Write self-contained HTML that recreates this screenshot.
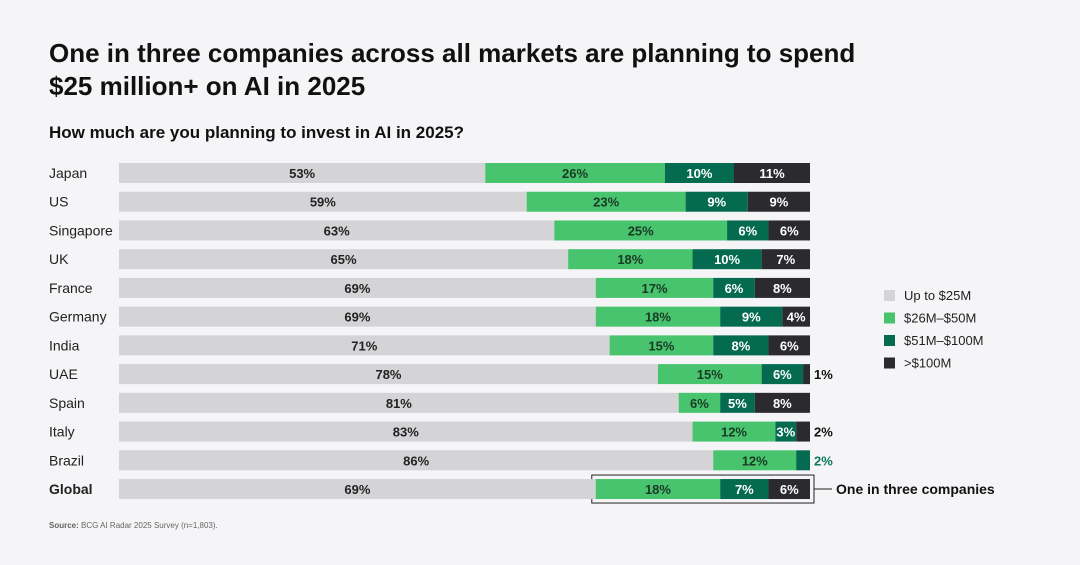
<!DOCTYPE html>
<html><head><meta charset="utf-8"><style>
body{margin:0;background:#f5f4f6;font-family:"Liberation Sans",sans-serif;}
svg{display:block}
</style></head><body>
<svg id="c" width="1080" height="565" xmlns="http://www.w3.org/2000/svg">
<rect width="1080" height="565" fill="#f5f4f6"/>
<text x="49" y="62" font-size="26" font-weight="bold" fill="#111">One in three companies across all markets are planning to spend</text>
<text x="49" y="95" font-size="26" font-weight="bold" fill="#111">$25 million+ on AI in 2025</text>
<text x="49" y="138" font-size="17" font-weight="bold" fill="#111">How much are you planning to invest in AI in 2025?</text>
<text x="49" y="528" font-size="8" fill="#666"><tspan font-weight="bold">Source:</tspan> BCG AI Radar 2025 Survey (n=1,803).</text>
<g id="bars"></g>
<g id="legend"></g>
</svg>
<script>
const categories=["Japan","US","Singapore","UK","France","Germany","India","UAE","Spain","Italy","Brazil","Global"];
const upTo25=[53,59,63,65,69,69,71,78,81,83,86,69];
const m26to50=[26,23,25,18,17,18,15,15,6,12,12,18];
const m51to100=[10,9,6,10,6,9,8,6,5,3,2,7];
const over100=[11,9,6,7,8,4,6,1,8,2,0,6];
const seriesNames=["Up to $25M","$26M–$50M","$51M–$100M",">$100M"];
const colors=["#d4d3d6","#47c46d","#046b50","#2b2a2e"];
const textColors=["#222","#1b3a26","#fff","#fff"];
const outColors=["#222","#222","#0a7a5a","#111"];
const NS="http://www.w3.org/2000/svg";
const g=document.getElementById('bars');
const xRight=810, scale=6.91, y0=163, step=28.73, bh=20;
const xs=v=>v*scale;
const yRow=i=>y0+i*step;
function mk(tag,attrs,parent){const e=document.createElementNS(NS,tag);for(const k in attrs)e.setAttribute(k,attrs[k]);parent.appendChild(e);return e;}
const series=[upTo25,m26to50,m51to100,over100];
categories.forEach((cat,i)=>{
  const y=yRow(i);
  const isG=cat==="Global";
  const lab=mk('text',{x:49,y:y+bh/2+5,'font-size':14,fill:'#222','font-weight':isG?'bold':'normal'},g);
  lab.textContent=cat;
  
  
  const total=series.reduce((s,a)=>s+a[i],0);
  let x=xRight-xs(total);
  if(isG){
    const box=mk('rect',{x:x+xs(upTo25[i])-4,y:y-4,width:xs(total-upTo25[i])+8,height:bh+8,fill:'none',stroke:'#222','stroke-width':1},g);
    
    
    const ln=mk('line',{x1:xRight+4,x2:xRight+22,y1:y+bh/2,y2:y+bh/2,stroke:'#222'},g);
    
    
    const ct=mk('text',{x:xRight+26,y:y+bh/2+5,'font-size':14,'font-weight':'bold',fill:'#111'},g);
    ct.textContent="One in three companies";
    
    
  }
  series.forEach((arr,s)=>{
    const v=arr[i]; if(!v) return;
    const w=xs(v);
    const r=mk('rect',{x:x,y:y,width:w,height:bh,fill:colors[s]},g);
    
    
    let t;
    if(v<=2){
      t=mk('text',{x:xRight+4,y:y+bh/2+5,'font-size':13,'font-weight':'bold',fill:outColors[s]},g);
    } else {
      t=mk('text',{x:x+w/2,y:y+bh/2+5,'font-size':13,'font-weight':'bold','text-anchor':'middle',fill:textColors[s]},g);
    }
    t.textContent=v+"%";
    
    
    x+=w;
  });
});
const lg=document.getElementById('legend');
seriesNames.forEach((n,s)=>{
  const y=290+s*22.5;
  const r=mk('rect',{x:884,y:y,width:11,height:11,fill:colors[s]},lg);
  
  
  const t=mk('text',{x:904,y:y+10,'font-size':13,fill:'#222'},lg);
  t.textContent=n;
  
  
});
</script>
</body></html>
